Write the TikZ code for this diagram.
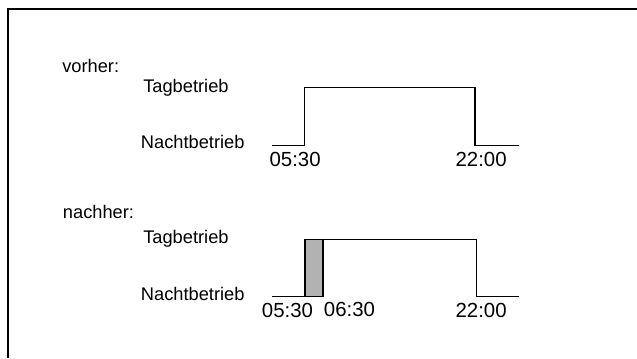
\documentclass[tikz,border=0pt]{standalone}
\usepackage{fontspec}
\setmainfont{Liberation Sans}
\begin{document}
\begin{tikzpicture}[x=0.75pt, y=-0.75pt, font=\fontsize{13.7}{16}\selectfont,
    lbl/.style={anchor=base west, inner sep=0pt},
    zeit/.style={lbl, font=\fontsize{15.3}{18}\selectfont},
    signal/.style={line width=0.9pt}]
    \useasboundingbox (0,0) rectangle (637,358);
    \draw[line width=1pt] (637,9) -- (8,9) -- (8,358);
    % vorher
    \node[lbl] (vorher) at (62,72) {vorher:};
    \node[lbl] (tag1) at (143,92.5) {Tagbetrieb};
    \node[lbl] (nacht1) at (140.7,148.3) {Nachtbetrieb};
    \node[zeit] (t1a) at (269.3,166.7) {05:30};
    \node[zeit] (t1b) at (455.3,166.7) {22:00};
    \draw[signal] (272,145.7) -- (304.5,145.7) -- (304.5,87.3) -- (475,87.3) -- (475,145.7) -- (519,145.7);
    % nachher
    \node[lbl] (nachher) at (62.7,218) {nachher:};
    \node[lbl] (tag2) at (143,243.7) {Tagbetrieb};
    \node[lbl] (nacht2) at (140.7,300.7) {Nachtbetrieb};
    \node[zeit] (t2a) at (261.7,317) {05:30};
    \node[zeit] (t2b) at (323.7,316.7) {06:30};
    \node[zeit] (t2c) at (455.3,317) {22:00};
    \filldraw[signal, fill=gray!60] (305,239.3) rectangle (323,296.5);
    \draw[signal] (272,296.5) -- (305,296.5) -- (305,239.3) -- (476.3,239.3) -- (476.3,296.5) -- (519,296.5);
\end{tikzpicture}
\end{document}
